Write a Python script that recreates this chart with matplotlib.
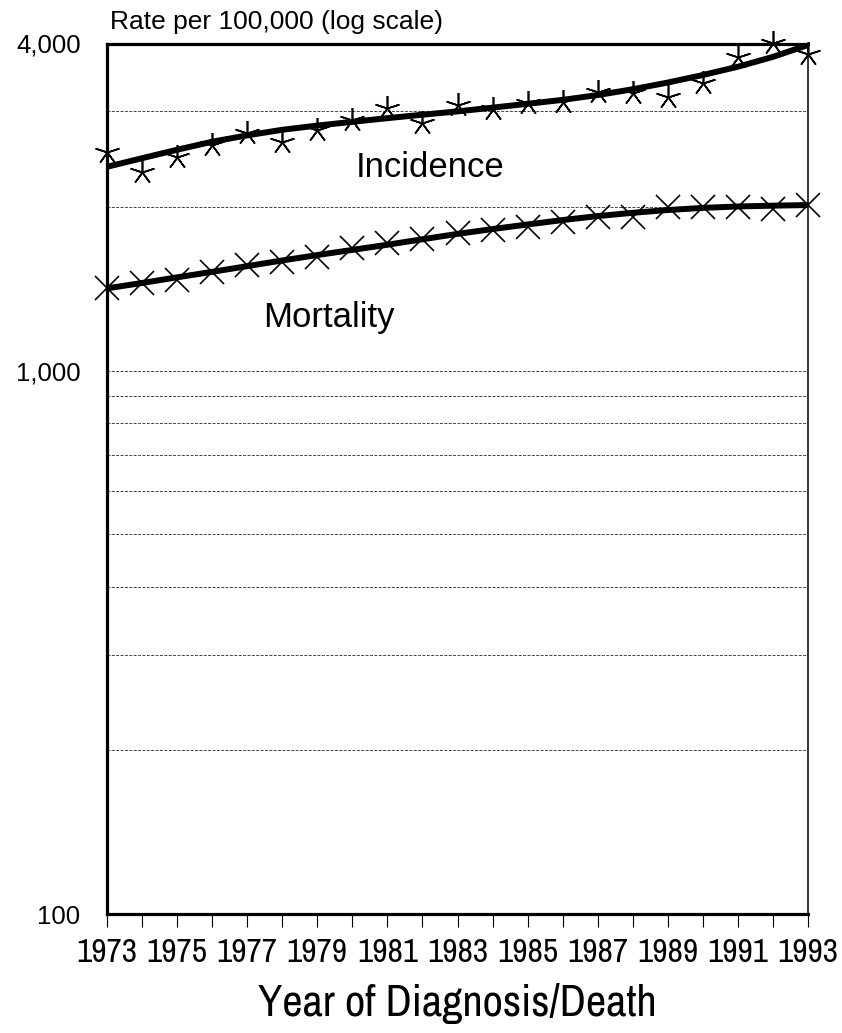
import matplotlib
matplotlib.use("Agg")
import matplotlib.pyplot as plt
import numpy as np
from matplotlib.ticker import NullLocator

# data
years = np.arange(1973, 1994)
incidence = [2529, 2323, 2475, 2602, 2733, 2638, 2772, 2892, 3039, 2852, 3082,
             3026, 3112, 3125, 3261, 3247, 3184, 3379, 3772, 4003, 3821]
incidence_fit = [2372, 2460, 2550, 2638, 2710, 2775, 2825, 2870, 2915, 2958, 3000,
                 3048, 3098, 3150, 3215, 3295, 3390, 3500, 3625, 3780, 3974]
mortality = [1417, 1447, 1468, 1521, 1565, 1586, 1616, 1679, 1715, 1744, 1789,
             1814, 1840, 1879, 1920, 1920, 1998, 2003, 2003, 1981, 2017]
mortality_fit = [1417, 1450, 1485, 1520, 1557, 1595, 1632, 1668, 1705, 1745, 1785,
                 1822, 1858, 1893, 1925, 1952, 1975, 1993, 2005, 2012, 2017]
grid_values = [200, 300, 400, 500, 600, 700, 800, 900, 1000, 2000, 3000]
ytick_values = [100, 1000, 4000]
ytick_labels = ["100", "1,000", "4,000"]
xtick_years = list(range(1973, 1994, 2))

plt.rcParams['font.family'] = ['Liberation Sans', 'DejaVu Sans']
narrow = ['Archivo Narrow', 'Liberation Sans', 'DejaVu Sans']

fig = plt.figure(figsize=(8.42, 10.33), dpi=100)
ax = fig.add_axes([107 / 842, 119 / 1033, 701 / 842, 870.5 / 1033])

for g in grid_values:
    ax.axhline(g, color='#444444', lw=0.7, ls=(0, (3, 1.5)), zorder=1)

ax.plot(years, incidence_fit, color='black', lw=4.3, solid_capstyle='butt', zorder=3)
ax.plot(years, mortality_fit, color='black', lw=4.3, solid_capstyle='butt', zorder=3)
ax.plot(years, incidence, ls='none', marker=(5, 2, 0), ms=18, mew=1.2,
        color='black', clip_on=False, zorder=4)
ax.plot(years, mortality, ls='none', marker='x', ms=17, mew=1.2,
        color='black', clip_on=False, zorder=4)

ax.set_yscale('log')
ax.set_ylim(100, 4000)
ax.set_xlim(1973, 1993)
ax.set_yticks(ytick_values)
ax.yaxis.set_minor_locator(NullLocator())
ax.set_yticklabels(ytick_labels, fontsize=18.5)
ax.tick_params(axis='y', length=0, pad=19)

ax.set_xticks(xtick_years)
ax.set_xticks(years, minor=True)
ax.set_xticklabels([str(y) for y in xtick_years], fontsize=24, family=narrow)
ax.tick_params(axis='x', which='both', length=9, width=0.8, direction='out', pad=8)

for s in ['left', 'bottom', 'top']:
    ax.spines[s].set_linewidth(2.3)
ax.spines['right'].set_linewidth(1.1)

ax.text(1980.1, 2370, "Incidence", fontsize=25, ha='left', va='center')
ax.text(1977.45, 1255, "Mortality", fontsize=25, ha='left', va='center')

fig.text(110 / 842, 1 - 22 / 1033, "Rate per 100,000 (log scale)", fontsize=19,
         ha='left', va='center')
fig.text(457 / 842, 1 - 1003 / 1033, "Year of Diagnosis/Death", fontsize=32,
         family=narrow, ha='center', va='center')

fig.savefig("out.png", dpi=100)
